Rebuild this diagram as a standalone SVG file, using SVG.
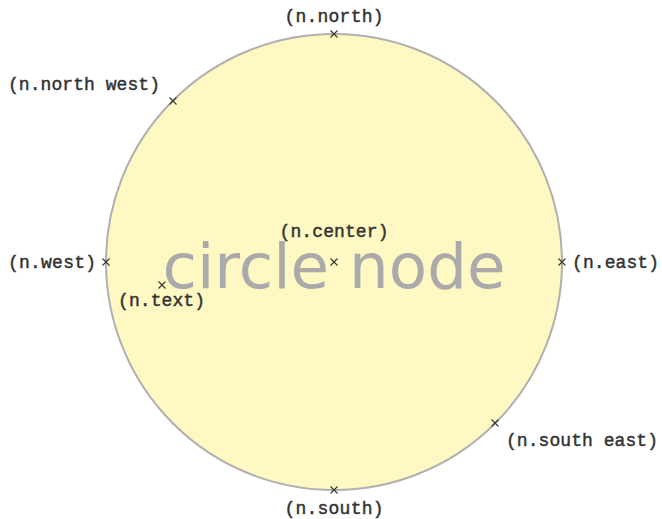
<svg xmlns="http://www.w3.org/2000/svg" width="662" height="519" viewBox="0 0 662 519">
  <style>
    .lbl { font-family: "Liberation Mono", "DejaVu Sans Mono", monospace; font-size: 18px; font-weight: normal; fill: #333333; stroke: #333333; stroke-width: 0.45; }
    .mark { stroke: #333; stroke-width: 1.1; fill: none; }
  </style>
  <defs>
    <path id="x" class="mark" d="M-3.5,-3.5 L3.5,3.5 M-3.5,3.5 L3.5,-3.5"/>
  </defs>
  <rect width="662" height="519" fill="#ffffff"/>
  <g id="n">
    <circle cx="334" cy="262" r="228" fill="#fff8c2" stroke="#b0b0b0" stroke-width="2"/>
    <text x="334" y="288" text-anchor="middle" font-family="DejaVu Sans, sans-serif" font-size="62" fill="#aaaaaa" textLength="343" lengthAdjust="spacingAndGlyphs">circle node</text>
  </g>
  <g id="anchors">
    <use href="#x" x="334" y="34"/>
    <use href="#x" x="173" y="101"/>
    <use href="#x" x="106" y="262"/>
    <use href="#x" x="162" y="285"/>
    <use href="#x" x="334" y="262"/>
    <use href="#x" x="562" y="262"/>
    <use href="#x" x="495" y="423"/>
    <use href="#x" x="334" y="490"/>
  </g>
  <g id="labels">
    <text class="lbl" x="334" y="22" text-anchor="middle" textLength="99">(n.north)</text>
    <text class="lbl" x="8" y="90" textLength="152">(n.north west)</text>
    <text class="lbl" x="8" y="268" textLength="88">(n.west)</text>
    <text class="lbl" x="118" y="306" textLength="87">(n.text)</text>
    <text class="lbl" x="334" y="237" text-anchor="middle" textLength="109">(n.center)</text>
    <text class="lbl" x="572" y="268" textLength="87">(n.east)</text>
    <text class="lbl" x="506" y="446" textLength="152">(n.south east)</text>
    <text class="lbl" x="334" y="514" text-anchor="middle" textLength="99">(n.south)</text>
  </g>
</svg>
